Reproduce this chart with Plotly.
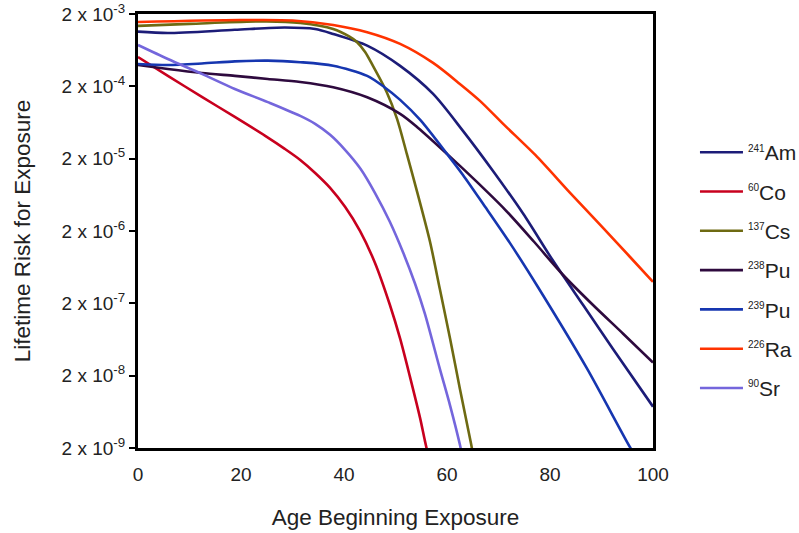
import plotly.graph_objects as go

# ---- data ----
age_am = [0, 5.8, 18.8, 28.5, 34.4, 37.9, 44.5, 50.9, 57.3, 63.1, 68.9, 74.8, 80.6, 86.4,
          92.2, 100]
risk_am = [1.14e-3, 1.09e-3, 1.21e-3, 1.30e-3, 1.24e-3, 1.06e-3, 7.30e-4, 3.83e-4, 1.57e-4,
           4.84e-5, 1.36e-5, 3.46e-6, 7.74e-7, 1.91e-7, 4.72e-8, 7.46e-9]

age_co = [0, 5.8, 12.4, 18.8, 24.7, 28.5, 31.5, 34.4, 37.3, 40.2, 43.1, 46.0, 48.9, 50.9,
          52.8, 54.8, 55.7, 56.7]
risk_co = [5.09e-4, 2.79e-4, 1.43e-4, 7.55e-5, 4.13e-5, 2.73e-5, 1.92e-5, 1.27e-5, 7.91e-6,
           4.32e-6, 2.01e-6, 7.28e-7, 1.91e-7, 6.49e-8, 1.94e-8, 5.09e-9, 2.53e-9, 1.22e-9]

age_cs = [0, 10, 25, 31.5, 37.9, 41.0, 42.5, 44.1, 45.6, 48.3, 50.3, 52.2, 54.2, 56.7, 58.6,
          60.6, 62.5, 64.7, 65.6]
risk_cs = [1.37e-3, 1.46e-3, 1.58e-3, 1.50e-3, 1.24e-3, 9.78e-4, 8.21e-4, 5.97e-4, 3.86e-4,
           1.66e-4, 7.10e-5, 2.33e-5, 6.95e-6, 1.42e-6, 3.18e-7, 6.49e-8, 1.32e-8, 2.23e-9,
           9.75e-10]

age_pu238 = [0, 5.8, 12.4, 18.8, 25.2, 31.5, 37.9, 44.5, 50.9, 54.4, 60.0, 65.6, 71.3, 76.9,
             82.5, 88.3, 94.2, 100]
risk_pu238 = [3.95e-4, 3.48e-4, 3.06e-4, 2.79e-4, 2.53e-4, 2.30e-4, 1.94e-4, 1.41e-4, 8.32e-5,
              5.32e-5, 2.33e-5, 9.86e-6, 3.93e-6, 1.42e-6, 4.97e-7, 1.91e-7, 7.60e-8, 3.03e-8]

age_pu239 = [0, 5.8, 12.4, 18.8, 25.2, 31.5, 37.9, 44.5, 47.8, 50.9, 54.8, 60.0, 63.1, 67.0,
             72.2, 77.5, 87.2, 95.5, 97.5]
risk_pu239 = [4.08e-4, 3.95e-4, 4.14e-4, 4.42e-4, 4.53e-4, 4.31e-4, 3.86e-4, 2.79e-4, 1.96e-4,
              1.30e-4, 6.87e-5, 2.33e-5, 1.19e-5, 4.75e-6, 1.37e-6, 3.50e-7, 2.50e-8, 2.07e-9,
              1.22e-9]

age_ra = [0, 19.8, 30, 37.9, 44.5, 50.9, 57.3, 62.5, 66.4, 70.9, 77.5, 83.9, 90.3, 95.5, 100]
risk_ra = [1.55e-3, 1.65e-3, 1.63e-3, 1.41e-3, 1.12e-3, 7.71e-4, 4.21e-4, 2.16e-4, 1.26e-4,
           6.05e-5, 2.12e-5, 6.75e-6, 2.21e-6, 8.81e-7, 3.97e-7]

age_sr = [0, 5.8, 12.4, 18.8, 25.2, 31.5, 34.4, 37.3, 40.2, 43.2, 46.0, 48.9, 51.5, 53.8,
          55.7, 58.6, 60.6, 62.5, 63.3]
risk_sr = [7.46e-4, 4.78e-4, 2.97e-4, 1.84e-4, 1.21e-4, 7.80e-5, 6.05e-5, 4.27e-5, 2.65e-5,
           1.45e-5, 6.75e-6, 2.68e-6, 1.0e-6, 3.73e-7, 1.44e-7, 2.50e-8, 7.71e-9, 2.23e-9,
           1.18e-9]

mass_numbers = ["241", "60", "137", "238", "239", "226", "90"]
elements = ["Am", "Co", "Cs", "Pu", "Pu", "Ra", "Sr"]
colors = ["#1c1c78", "#c8001e", "#6e6a12", "#2e0a3e", "#1636b0", "#ff3300", "#7466dc"]

ytick_vals = [2e-3, 2e-4, 2e-5, 2e-6, 2e-7, 2e-8, 2e-9]
ytick_text = ["2 x 10<sup>-3</sup>", "2 x 10<sup>-4</sup>", "2 x 10<sup>-5</sup>",
              "2 x 10<sup>-6</sup>", "2 x 10<sup>-7</sup>", "2 x 10<sup>-8</sup>",
              "2 x 10<sup>-9</sup>"]
xtick_vals = [0, 20, 40, 60, 80, 100]

series = [(age_am, risk_am), (age_co, risk_co), (age_cs, risk_cs), (age_pu238, risk_pu238),
          (age_pu239, risk_pu239), (age_ra, risk_ra), (age_sr, risk_sr)]

FONT = "Liberation Sans, Arial, sans-serif"
TXT = "#222222"

fig = go.Figure()
for i, ((xs, ys), mn, el, c) in enumerate(zip(series, mass_numbers, elements, colors)):
    label = '<sup><span style="font-size:10px">' + mn + '</span></sup>' + el
    fig.add_trace(go.Scatter(
        x=xs, y=ys, mode="lines", name=label, legendgroup=str(i),
        line=dict(color=c, width=2.6, shape="spline", smoothing=0.8),
    ))

fig.update_layout(
    width=799, height=533,
    margin=dict(l=138, r=146, t=14, b=85),
    paper_bgcolor="white", plot_bgcolor="white",
    font=dict(family=FONT, size=18, color=TXT),
    showlegend=True,
    legend=dict(
        xref="container", yref="paper",
        x=0.8698, y=0.728, xanchor="left", yanchor="top",
        traceorder="grouped", tracegroupgap=9, itemwidth=43,
        font=dict(family=FONT, size=21, color=TXT),
        bgcolor="rgba(0,0,0,0)",
    ),
)

fig.update_xaxes(
    range=[0, 100], tickvals=xtick_vals, ticks="", showgrid=False, zeroline=False,
    showline=True, mirror=True, linecolor="black", linewidth=3, automargin=False,
    tickfont=dict(family=FONT, size=19, color=TXT),
    ticklabelstandoff=7,
    title=dict(text="Age Beginning Exposure", font=dict(family=FONT, size=22.5, color=TXT),
               standoff=26),
)
fig.update_yaxes(
    type="log", range=[-8.69897, -2.69897], tickvals=ytick_vals, ticktext=ytick_text,
    ticks="outside", ticklen=6, tickwidth=2, tickcolor="black",
    showgrid=False, zeroline=False, automargin=False,
    showline=True, mirror=True, linecolor="black", linewidth=3,
    tickfont=dict(family=FONT, size=19, color=TXT),
    title=dict(text="Lifetime Risk for Exposure", font=dict(family=FONT, size=22.5, color=TXT),
               standoff=25),
)

fig.write_html("out.html", config={"displayModeBar": False},
               post_script="document.body.style.margin='0px';")
